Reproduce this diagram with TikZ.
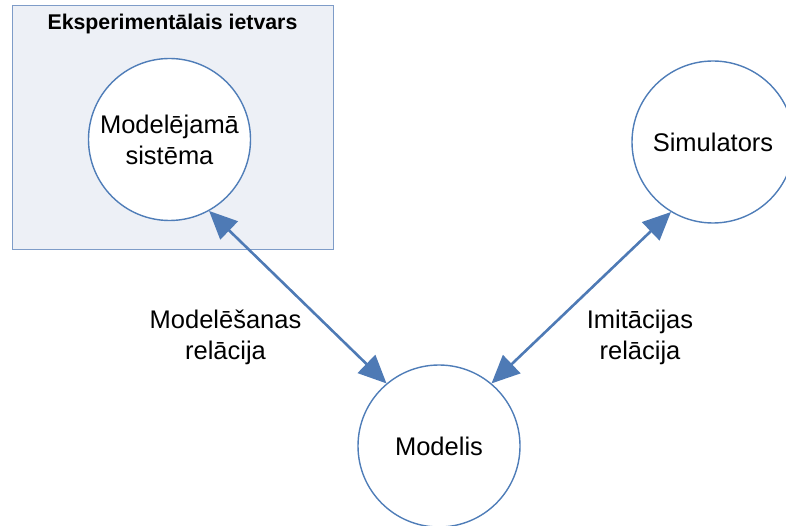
\documentclass[tikz,border=0pt]{standalone}
\usepackage{fontspec}
\setmainfont{Liberation Sans}
\usetikzlibrary{arrows.meta}
\definecolor{rimblue}{HTML}{4F7DB8}
\definecolor{arrowblue}{HTML}{4E7AB5}
\definecolor{framefill}{HTML}{EDF0F6}
\definecolor{frameline}{HTML}{7E9CC8}
\tikzset{
  entity/.style={circle, draw=rimblue, line width=1.4pt, fill=white,
    minimum size=162pt, inner sep=0pt, align=center,
    font=\fontsize{25.5}{31}\selectfont},
  relation/.style={draw=arrowblue, line width=2.6pt,
    {Triangle[length=28pt,width=25pt]}-{Triangle[length=28pt,width=25pt]}},
  relabel/.style={align=center, inner sep=0pt, font=\fontsize{25.5}{31}\selectfont},
}
\begin{document}
\begin{tikzpicture}[x=1pt,y=-1pt]
  \useasboundingbox (0,0) rectangle (786,526);
  % experimental frame
  \node[draw=frameline, fill=framefill, line width=1pt,
        minimum width=321pt, minimum height=244pt, inner sep=0pt]
        (frame) at (172.5,128) {};
  \node[anchor=base, inner sep=0pt, font=\fontsize{21.3}{24}\selectfont\bfseries]
        (frametitle) at (172.5,30) {Eksperimentālais ietvars};
  % entities
  \node[entity] (system) at (169.5,139.5) {Modelējamā\\sistēma};
  \node[entity] (model) at (439,446) {Modelis};
  \node[entity] (sim) at (713,142) {Simulators};
  % relations
  \draw[relation] (system.-61.4) -- (model.130);
  \draw[relation] (sim.-121) -- (model.50.4);
  \node[relabel] (modlabel) at (225.5,337) {Modelēšanas\\relācija};
  \node[relabel] (imlabel) at (640,337) {Imitācijas\\relācija};
\end{tikzpicture}
\end{document}
